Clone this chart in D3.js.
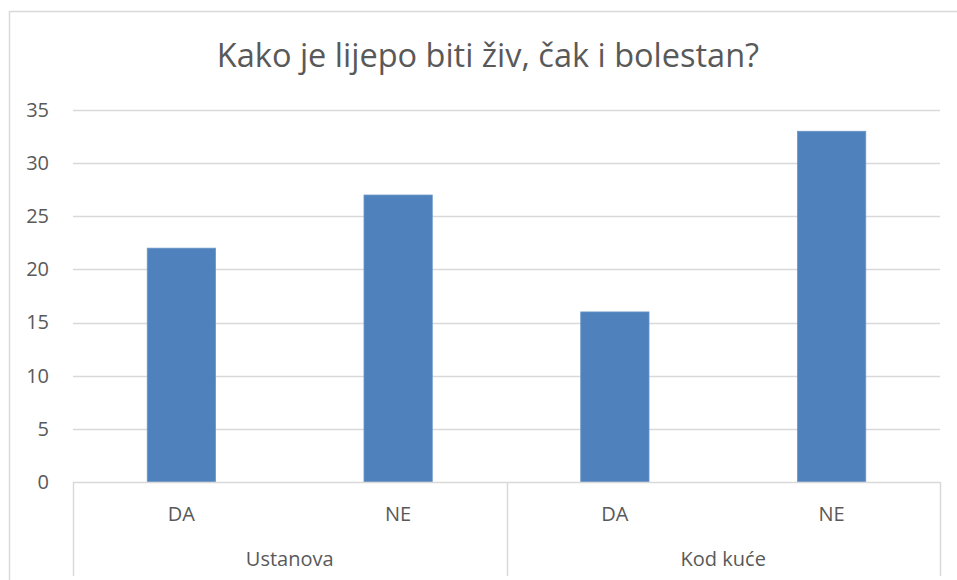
<!DOCTYPE html>
<html>
<head>
<meta charset="utf-8">
<script src="https://cdn.jsdelivr.net/npm/d3@7"></script>
<style>
  html, body { margin: 0; padding: 0; background: #fff; }
  svg { display: block; }
  text { font-family: "Open Sans", "Noto Sans", sans-serif; fill: #595959; }
</style>
</head>
<body>
<svg id="chart" width="957" height="580"></svg>
<script>
// Chart data
const title = "Kako je lijepo biti živ, čak i bolestan?";
const groups = ["Ustanova", "Kod kuće"];
const answers = ["DA", "NE"];
const ustanovaValues = [22, 27];
const kodKuceValues = [16, 33];
const yTicks = [0, 5, 10, 15, 20, 25, 30, 35];

const seriesByGroup = [ustanovaValues, kodKuceValues];
const rows = [];
groups.forEach((g, gi) => {
  answers.forEach((a, ai) => {
    rows.push({ key: g + "|" + a, group: g, answer: a, value: seriesByGroup[gi][ai] });
  });
});

const svg = d3.select("#chart");
const W = 957, H = 580;
const plot = { left: 73, right: 940, top: 110, bottom: 482 };

// Outer chart frame (open on the right and bottom)
svg.append("path")
  .attr("d", `M9.5,${H} V11.5 H${W}`)
  .attr("fill", "none")
  .attr("stroke", "#d9d9d9")
  .attr("stroke-width", 1.5);

svg.append("text")
  .attr("x", 488)
  .attr("y", 67)
  .attr("text-anchor", "middle")
  .attr("font-size", 32.5)
  .text(title);

const y = d3.scaleLinear().domain([0, 35]).range([plot.bottom, plot.top]);
const x = d3.scaleBand()
  .domain(rows.map(d => d.key))
  .range([plot.left, plot.right])
  .paddingInner(0.685)
  .paddingOuter(0.3425);

// Gridlines
svg.append("g")
  .selectAll("line")
  .data(yTicks.filter(t => t > 0))
  .join("line")
  .attr("x1", plot.left)
  .attr("x2", plot.right)
  .attr("y1", d => Math.round(y(d)) + 0.5)
  .attr("y2", d => Math.round(y(d)) + 0.5)
  .attr("stroke", "#d9d9d9")
  .attr("stroke-width", 1.5);

// Y axis labels
const yAxis = d3.axisLeft(y).tickValues(yTicks).tickSize(0).tickPadding(0);
const yG = svg.append("g").attr("transform", `translate(49,0)`).call(yAxis);
yG.select(".domain").remove();
yG.selectAll("text")
  .attr("font-size", 20)
  .attr("fill", "#595959")
  .attr("font-family", '"Open Sans", "Noto Sans", sans-serif');

// Bars
svg.append("g")
  .selectAll("rect")
  .data(rows)
  .join("rect")
  .attr("x", d => x(d.key))
  .attr("y", d => y(d.value))
  .attr("width", x.bandwidth())
  .attr("height", d => y(0) - y(d.value))
  .attr("fill", "#4f81bd")
  .attr("stroke", "#6a95c8")
  .attr("stroke-width", 0.8);

// Category axis baseline and group separators
const axisColor = "#d9d9d9";
svg.append("line")
  .attr("x1", plot.left).attr("x2", plot.right)
  .attr("y1", plot.bottom + 0.5).attr("y2", plot.bottom + 0.5)
  .attr("stroke", axisColor).attr("stroke-width", 1.5);

const groupScale = d3.scaleBand().domain(groups).range([plot.left, plot.right]);
const seps = [plot.left, ...groups.map(g => groupScale(g) + groupScale.bandwidth())];
svg.append("g")
  .selectAll("line")
  .data(seps)
  .join("line")
  .attr("x1", d => Math.round(d) + 0.5)
  .attr("x2", d => Math.round(d) + 0.5)
  .attr("y1", plot.bottom)
  .attr("y2", 576)
  .attr("stroke", axisColor)
  .attr("stroke-width", 1.5);

// Answer labels
svg.append("g")
  .selectAll("text")
  .data(rows)
  .join("text")
  .attr("x", d => x(d.key) + x.bandwidth() / 2)
  .attr("y", 521)
  .attr("text-anchor", "middle")
  .attr("font-size", 20)
  .text(d => d.answer);

// Group labels
svg.append("g")
  .selectAll("text")
  .data(groups)
  .join("text")
  .attr("x", d => groupScale(d) + groupScale.bandwidth() / 2)
  .attr("y", 566)
  .attr("text-anchor", "middle")
  .attr("font-size", 20)
  .text(d => d);
</script>
</body>
</html>
